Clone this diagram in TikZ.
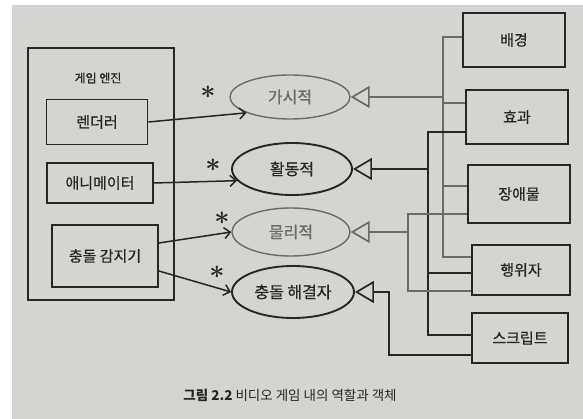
\documentclass[tikz,border=0pt]{standalone}
\usepackage{fontspec}
\usepackage{graphicx}
\newfontfamily\kr{Noto Sans CJK KR}
\newfontfamily\krh[FakeBold=0.7]{Noto Sans CJK KR}
\usetikzlibrary{shapes.geometric,arrows.meta}
\definecolor{paper}{HTML}{D4D4D0}
\definecolor{ink}{HTML}{262626}
\definecolor{inkgray}{HTML}{6A6A6A}
\newcommand{\bigstar}{\scalebox{2.2}{\boldmath$\ast$}}
\begin{document}
\begin{tikzpicture}[x=1pt,y=-1pt,
  box/.style={draw=ink, line width=1.7pt, inner sep=0pt, font=\krh\fontsize{15}{15}\selectfont, text=ink},
  role/.style={ellipse, draw=ink, line width=1.9pt, inner sep=0pt, font=\krh\fontsize{16}{16}\selectfont, text=ink},
  grole/.style={role, draw=inkgray, line width=1.4pt, text=inkgray},
  dline/.style={draw=ink, line width=1.7pt},
  gline/.style={draw=inkgray, line width=1.4pt},
  tri/.style={-{Triangle[open,length=19pt,width=22pt,line width=1.7pt]}},
  use/.style={-{Straight Barb[length=6pt,width=11pt]}, draw=ink, line width=1.5pt},
  star/.style={font=\fontsize{12}{12}\selectfont, text=ink, inner sep=0pt}]
\useasboundingbox (0,0) rectangle (583,419);
\fill[white] (0,0) rectangle (583,419);
\fill[paper] (12,5) rectangle (583,419);

% game engine
\node[draw=ink,line width=1.7pt,minimum width=146pt,minimum height=252pt,inner sep=0pt] (eng) at (101,174) {};
\node[font=\krh\fontsize{12}{12}\selectfont,text=ink] (engt) at (98,78) {게임 엔진};
\node[box,minimum width=101pt,minimum height=45pt] (rend) at (97,122) {렌더러};
\node[box,minimum width=106pt,minimum height=40pt] (anim) at (100,183) {애니메이터};
\node[box,minimum width=106pt,minimum height=62pt] (det) at (105,256) {충돌 감지기};

% roles
\node[grole,minimum width=120pt,minimum height=44pt] (vis) at (290,97) {가시적};
\node[role,minimum width=120pt,minimum height=52pt] (act) at (292,169) {활동적};
\node[grole,minimum width=118pt,minimum height=48pt] (phy) at (291,232) {물리적};
\node[role,minimum width=122pt,minimum height=52pt] (col) at (293,292) {충돌 해결자};

% objects
\node[box,minimum width=102pt,minimum height=54pt] (bg) at (514,40) {배경};
\node[box,minimum width=102pt,minimum height=54pt] (fx) at (517,117) {효과};
\node[box,minimum width=102pt,minimum height=58pt] (ob) at (519,194) {장애물};
\node[box,minimum width=98pt,minimum height=50pt] (ac) at (521,270) {행위자};
\node[box,minimum width=96pt,minimum height=50pt] (sc) at (520,338) {스크립트};

% buses
\coordinate (busA) at (443,0);
\coordinate (busB) at (428,0);
\coordinate (busC) at (408,0);
\coordinate (busD) at (389,0);
\coordinate (bgA) at ([yshift=3pt]bg.west);
\coordinate (fxA) at ([yshift=14pt]fx.west);
\coordinate (fxB) at ([yshift=-15pt]fx.west);
\coordinate (obA) at ([yshift=8pt]ob.west);
\coordinate (obC) at ([yshift=-20pt]ob.west);
\coordinate (acA) at ([yshift=13pt]ac.west);
\coordinate (acB) at ([yshift=-3pt]ac.west);
\coordinate (acC) at ([yshift=-21pt]ac.west);
\coordinate (scB) at ([yshift=3pt]sc.west);
\coordinate (scD) at ([yshift=-17pt]sc.west);

% visible
\draw[gline] (bgA) -- (bgA -| busA) -- (acA -| busA) -- (acA);
\draw[gline] (fxA) -- (fxA -| busA);
\draw[gline] (obA) -- (obA -| busA);
\draw[gline,tri] (vis.east -| busA) -- (vis.east);
% active
\draw[dline] (fxB) -- (fxB -| busB) -- (scB -| busB) -- (scB);
\draw[dline] (acB) -- (acB -| busB);
\draw[dline,tri] (act.east -| busB) -- (act.east);
% physical
\draw[gline] (obC) -- (obC -| busC) -- (acC -| busC) -- (acC);
\draw[gline,tri] (phy.east -| busC) -- (phy.east);
% collision resolver
\draw[dline,tri] (scD) -- (scD -| busD) -- (col.east -| busD) -- (col.east);

% uses
\draw[use] (rend.east) -- (vis.200);
\draw[use] (anim.east) -- (act.192);
\draw[use] ([yshift=13pt]det.east) -- (phy.west);
\draw[use] ([yshift=-15pt]det.east) -- (col.west);
\node[star] (s1) at (208,92) {\bigstar};
\node[star] (s2) at (213,165) {\bigstar};
\node[star] (s3) at (222,218) {\bigstar};
\node[star] (s4) at (217,272) {\bigstar};

\node[font=\kr\fontsize{13.5}{13.5}\selectfont, text=ink] (cap) at (290,395) {\textbf{그림 2.2} 비디오 게임 내의 역할과 객체};
\end{tikzpicture}
\end{document}
